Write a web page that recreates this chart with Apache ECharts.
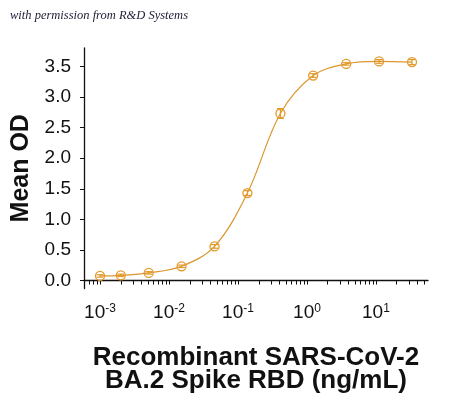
<!DOCTYPE html>
<html>
<head>
<meta charset="utf-8">
<script src="https://cdn.jsdelivr.net/npm/echarts@6/dist/echarts.min.js"></script>
<style>
html,body{margin:0;padding:0;background:#fff;}
#chart{width:450px;height:399px;}
</style>
</head>
<body>
<div id="chart"></div>
<script>
// Concentrations (ng/mL), ascending
var concentrations = [0.001, 0.002, 0.00508, 0.0152, 0.0457, 0.137, 0.412, 1.23, 3.70, 11.1, 33.3];
// Mean OD values
var meanOD = [0.076, 0.086, 0.125, 0.233, 0.558, 1.43, 2.73, 3.35, 3.54, 3.58, 3.57];
// Error (+/-)
var errors = [0.02, 0.02, 0.02, 0.02, 0.03, 0.04, 0.08, 0.03, 0.02, 0.03, 0.04];
// Axis tick labels
var yTickValues = [0, 0.5, 1.0, 1.5, 2.0, 2.5, 3.0, 3.5];
var xDecades = [0.001, 0.01, 0.1, 1, 10];
var xMinorTicks = [0.0006, 0.0007, 0.0008, 0.0009,
  0.001, 0.002, 0.003, 0.004, 0.005, 0.006, 0.007, 0.008, 0.009,
  0.01, 0.02, 0.03, 0.04, 0.05, 0.06, 0.07, 0.08, 0.09,
  0.1, 0.2, 0.3, 0.4, 0.5, 0.6, 0.7, 0.8, 0.9,
  1, 2, 3, 4, 5, 6, 7, 8, 9,
  10, 20, 30, 40, 50];
var xTitle = 'Recombinant SARS-CoV-2\nBA.2 Spike RBD (ng/mL)';
var yTitle = 'Mean OD';
var credit = 'with permission from R&D Systems';

var orange = '#E39A2A';
var lineColor = '#DA9630';

var pts = concentrations.map(function (c, i) { return [c, meanOD[i]]; });
var errPts = concentrations.map(function (c, i) { return [c, meanOD[i], errors[i]]; });

var chart = echarts.init(document.getElementById('chart'), null, {renderer: 'canvas'});
chart.setOption({
  animation: false,
  backgroundColor: '#fff',
  graphic: [{
    type: 'text', left: 10, top: 9,
    style: {text: credit, font: 'italic 12.5px "Liberation Serif"', fill: '#22223a'}
  }],
  grid: {left: 84, right: 22, top: 48, bottom: 109, containLabel: false},
  xAxis: {
    type: 'log', logBase: 10,
    min: 0.000586, max: 56.8,
    name: xTitle, nameLocation: 'middle', nameGap: 58,
    nameTextStyle: {fontFamily: 'Liberation Sans', fontWeight: 'bold', fontSize: 26, color: '#111', lineHeight: 23},
    axisLine: {show: true, lineStyle: {color: '#111', width: 1.3}},
    axisTick: {show: true, length: 4, inside: false, lineStyle: {color: '#111', width: 1}, customValues: xMinorTicks},
    axisLabel: {
      customValues: xDecades,
      margin: 14,
      formatter: function (v) {
        var e = Math.round(Math.log10(v));
        return '{b|10}{s|' + e + '}';
      },
      rich: {
        b: {fontFamily: 'Liberation Sans', fontSize: 19, color: '#111', verticalAlign: 'bottom'},
        s: {fontFamily: 'Liberation Sans', fontSize: 12, color: '#111', verticalAlign: 'bottom', padding: [0, 0, 8, 0]}
      }
    },
    splitLine: {show: false},
    minorTick: {show: false}
  },
  yAxis: {
    type: 'value', min: -0.13, max: 3.8,
    name: yTitle, nameLocation: 'middle', nameGap: 42,
    nameTextStyle: {fontFamily: 'Liberation Sans', fontWeight: 'bold', fontSize: 25, color: '#111'},
    axisLine: {show: true, lineStyle: {color: '#111', width: 1.3}},
    axisTick: {show: true, length: 4, lineStyle: {color: '#111'}, customValues: yTickValues},
    axisLabel: {
      customValues: yTickValues, margin: 13,
      fontFamily: 'Liberation Sans', fontSize: 19, color: '#111',
      formatter: function (v) { return v.toFixed(1); }
    },
    splitLine: {show: false}
  },
  series: [
    {
      type: 'line', data: pts, smooth: 0.35,
      showSymbol: true, symbol: 'circle', symbolSize: 9,
      lineStyle: {color: lineColor, width: 1.2},
      itemStyle: {color: 'rgba(255,255,255,0)', borderColor: orange, borderWidth: 1.3},
      z: 3
    },
    {
      type: 'custom', data: errPts, z: 4,
      renderItem: function (params, api) {
        var x = api.value(0), y = api.value(1), e = api.value(2);
        var hi = api.coord([x, y + e]);
        var lo = api.coord([x, y - e]);
        var w = 3.5;
        var st = {stroke: orange, lineWidth: 1.2, fill: null};
        return {type: 'group', children: [
          {type: 'line', shape: {x1: hi[0], y1: hi[1], x2: lo[0], y2: lo[1]}, style: st},
          {type: 'line', shape: {x1: hi[0] - w, y1: hi[1], x2: hi[0] + w, y2: hi[1]}, style: st},
          {type: 'line', shape: {x1: lo[0] - w, y1: lo[1], x2: lo[0] + w, y2: lo[1]}, style: st}
        ]};
      }
    }
  ]
});
</script>
</body>
</html>
